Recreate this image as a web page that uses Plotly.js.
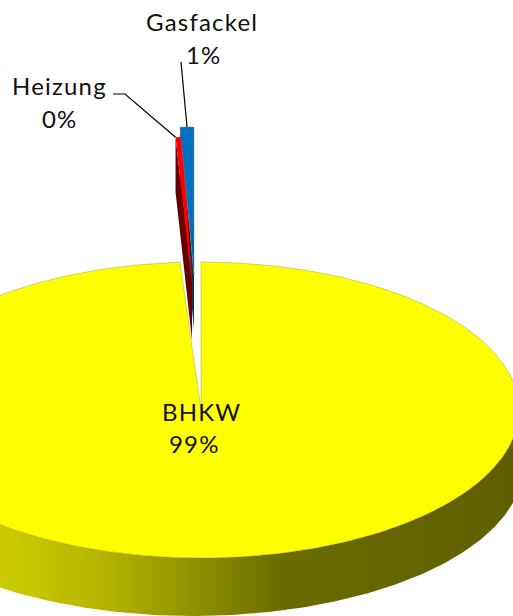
<!DOCTYPE html>
<html>
<head>
<meta charset="utf-8">
<script src="https://cdn.plot.ly/plotly-3.0.1.min.js"></script>
<style>
html, body { margin: 0; padding: 0; background: #fff; }
#chart { width: 513px; height: 616px; }
.annotation-text { letter-spacing: 1.2px; }
</style>
</head>
<body>
<div id="chart"></div>
<script>
// Energy use by consumer, in percent
const categories = ['BHKW', 'Gasfackel', 'Heizung'];
const shares = [98.95, 0.7, 0.35];

// Pie geometry, in chart units measured from the centre of the main slice
const RX = 318, RY = 148;          // top face
const BOTTOM = { cx: -8, rx: 330, ry: 150, drop: 56 };  // lower rim of the wall
const DEPTH = 55;                  // wall height of the pulled-out wedges
const X_RANGE = [-201, 312], Y_RANGE = [-206, 410];

const rad = d => d * Math.PI / 180;
const rim = (deg, dx = 0, dy = 0) => [dx + RX * Math.sin(rad(deg)), dy + RY * Math.cos(rad(deg))];

function sweep(from, to, fn) {
  const steps = Math.max(2, Math.ceil(Math.abs(to - from) * 1.5));
  const pts = [];
  for (let i = 0; i <= steps; i++) pts.push(fn(from + (to - from) * i / steps));
  return pts;
}
function poly(pts, color, extra) {
  return Object.assign({
    type: 'scatter', mode: 'lines', x: pts.map(p => p[0]), y: pts.map(p => p[1]),
    fill: 'toself', fillcolor: color, line: { width: 0 }, hoverinfo: 'skip', showlegend: false
  }, extra || {});
}

// Angular extents derived from the shares
const mainEnd = shares[0] * 3.6;
const blueSpan = shares[1] * 3.6;
const redSpan = shares[2] * 3.6;

// Pulled-out wedges: offset of the tip from the pie centre
const blueTip = [-7, 135];
const redTip = [-9, 125];
const blueFrom = 360 - blueSpan, blueTo = 360;
const redTo = 360 - 1.7, redFrom = redTo - redSpan;

// Side wall of the main slice, shaded left to right
const wallTop = sweep(90, 270, d => rim(d));
const wallBottom = sweep(270, 90, d => [BOTTOM.cx + BOTTOM.rx * Math.sin(rad(d)), BOTTOM.ry * Math.cos(rad(d)) - BOTTOM.drop]);
const wall = poly(wallTop.concat(wallBottom), '#808000', {
  fillgradient: {
    type: 'horizontal', start: -201, stop: 312,
    colorscale: [[0, '#cccc00'], [0.18, '#b8b800'], [0.36, '#949400'], [0.55, '#6b6b00'], [1, '#5f5f00']]
  }
});

// Top face of the main slice
const mainTop = poly([[0, 0]].concat(sweep(0, mainEnd, d => rim(d))).concat([[0, 0]]), '#ffff00',
  { line: { width: 0.6, color: 'rgba(110,110,60,0.55)' } });

// Gasfackel wedge: wall turns from the neighbour's shadow to dark blue under the tip
const blueOuter = rim(blueFrom, ...blueTip);
const blueWall = poly([blueOuter, blueTip, [blueTip[0], blueTip[1] - DEPTH], [blueOuter[0], blueOuter[1] - DEPTH]], '#640000', {
  fillgradient: {
    type: 'horizontal', start: blueOuter[0], stop: blueTip[0],
    colorscale: [[0, '#640000'], [0.7, '#640000'], [0.72, '#0d3557'], [1, '#0d3557']]
  }
});
const blueTop = poly([blueTip].concat(sweep(blueFrom, blueTo, d => rim(d, ...blueTip))).concat([blueTip]), '#0070c0', {
  line: { width: 1, color: 'rgba(120,130,140,0.45)' },
  fillgradient: {
    type: 'vertical', start: blueTip[1] + RY, stop: blueTip[1],
    colorscale: [[0, '#0070c0'], [0.65, '#0070c0'], [1, '#0c4a78']]
  }
});

// Heizung wedge
const redOuter = rim(redFrom, ...redTip);
const redWall = poly([redOuter, redTip, [redTip[0], redTip[1] - DEPTH], [redOuter[0], redOuter[1] - DEPTH]], '#640000');
const redTop = poly([redTip].concat(sweep(redFrom, redTo, d => rim(d, ...redTip))).concat([redTip]), '#ff0000');

// Leader lines from the labels to the wedges
const blueLeadEnd = rim((blueFrom + blueTo) / 2, ...blueTip);
function leader(pts) {
  return { type: 'scatter', mode: 'lines', x: pts.map(p => p[0]), y: pts.map(p => p[1]),
    line: { color: '#000', width: 1.2 }, hoverinfo: 'skip', showlegend: false };
}
const blueLead = leader([[-20, 348], blueLeadEnd]);
const redLead = leader([[-88, 316], [-76, 316], redOuter]);

// Category name and rounded share, one annotation per line
const FONT = { family: 'Lato, "Open Sans", sans-serif', size: 24, color: '#111' };
const percent = v => Math.round(v) + '%';
function label(text, x, y) {
  return { text, x, y, xref: 'x', yref: 'y', showarrow: false, xanchor: 'center', yanchor: 'middle', font: FONT };
}
const annotations = [
  label(categories[0], 0, -1), label(percent(shares[0]), -7, -33),
  label(categories[1], 1, 389), label(percent(shares[1]), 3, 356),
  label(categories[2], -142, 325), label(percent(shares[2]), -141, 292)
];

Plotly.newPlot('chart', [wall, mainTop, blueWall, redWall, redTop, blueTop, blueLead, redLead], {
  width: 513, height: 616, autosize: false,
  margin: { l: 0, r: 0, t: 0, b: 0 },
  paper_bgcolor: '#fff', plot_bgcolor: '#fff', showlegend: false,
  xaxis: { range: X_RANGE, visible: false, fixedrange: true },
  yaxis: { range: Y_RANGE, visible: false, fixedrange: true },
  annotations
}, { displayModeBar: false, staticPlot: true });
</script>
</body>
</html>
